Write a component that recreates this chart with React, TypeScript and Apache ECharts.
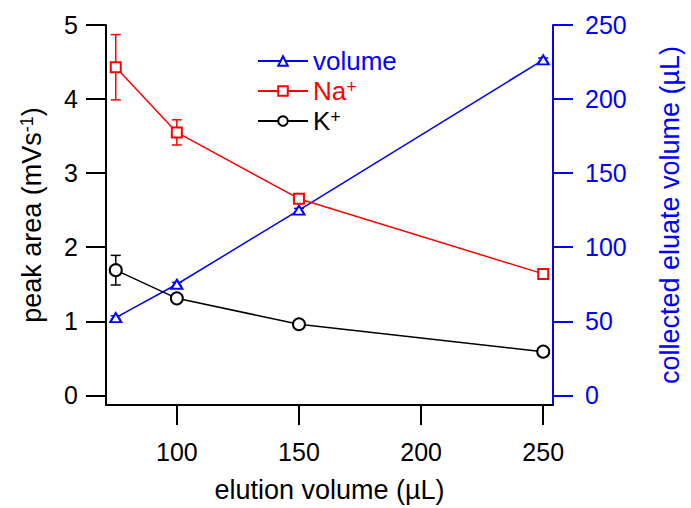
import React, { useEffect, useRef } from "react";
import * as echarts from "echarts";

const xValues = [75, 100, 150, 250];
const volume = [52.5, 75, 125, 226.5];
const volumeErr = [1.2, 1.2, 1.2, 1.2];
const sodium = [4.43, 3.55, 2.655, 1.64];
const sodiumErr = [0.44, 0.17, 0.04, 0.04];
const potassium = [1.69, 1.31, 0.96, 0.59];
const potassiumErr = [0.2, 0.03, 0.03, 0.03];
const xTicks = [100, 150, 200, 250];
const leftTicks = [0, 1, 2, 3, 4, 5];
const rightTicks = [0, 50, 100, 150, 200, 250];

const BLUE = "#0000ff";
const RED = "#ff0000";
const BLACK = "#000000";
const FONT = "'Liberation Sans', Arial, Helvetica, sans-serif";

function errorSeries(vals: number[], errs: number[], color: string, yAxisIndex: number) {
  return {
    type: "custom",
    name: "err" + color,
    yAxisIndex,
    z: 1,
    silent: true,
    data: xValues.map((x, i) => [x, vals[i] - errs[i], vals[i] + errs[i]]),
    encode: { x: 0, y: [1, 2] },
    renderItem: (params: any, api: any) => {
      const x = api.value(0);
      const lo = api.value(1);
      const hi = api.value(2);
      const p1 = api.coord([x, hi]);
      const p2 = api.coord([x, lo]);
      const hw = 5;
      const style = { stroke: color, lineWidth: 1.5 };
      return {
        type: "group",
        children: [
          { type: "line", shape: { x1: p1[0], y1: p1[1], x2: p2[0], y2: p2[1] }, style },
          { type: "line", shape: { x1: p1[0] - hw, y1: p1[1], x2: p1[0] + hw, y2: p1[1] }, style },
          { type: "line", shape: { x1: p2[0] - hw, y1: p2[1], x2: p2[0] + hw, y2: p2[1] }, style },
        ],
      };
    },
  };
}

export default function App() {
  const ref = useRef<HTMLDivElement>(null);
  useEffect(() => {
    if (!ref.current) return;
    const chart = echarts.init(ref.current, undefined, { renderer: "svg" });
    chart.setOption({
      animation: false,
      backgroundColor: "#ffffff",
      textStyle: { fontFamily: FONT },
      grid: { left: 106, right: 136, top: 25, bottom: 101 },
      legend: {
        orient: "vertical",
        left: 252,
        top: 43,
        itemWidth: 50,
        itemHeight: 12,
        itemGap: 4,
        selectedMode: false,
        data: [
          { name: "volume", textStyle: { color: BLUE } },
          { name: "Na+", textStyle: { color: RED } },
          { name: "K+", textStyle: { color: BLACK } },
        ],
        formatter: (name: string) =>
          name === "Na+" ? "Na{sup|+}" : name === "K+" ? "K{sup|+}" : name,
        textStyle: {
          fontSize: 26,
          fontFamily: FONT,
          rich: { sup: { fontSize: 18, verticalAlign: "top", fontFamily: FONT } },
        },
      },
      xAxis: {
        type: "value",
        min: 71,
        max: 254,
        name: "elution volume (µL)",
        nameLocation: "middle",
        nameGap: 71,
        nameTextStyle: { fontSize: 27, color: BLACK, fontFamily: FONT },
        axisLine: { show: true, onZero: false, lineStyle: { color: BLACK, width: 2 } },
        axisTick: { show: true, length: 20, lineStyle: { color: BLACK, width: 2 }, customValues: xTicks },
        axisLabel: { fontSize: 25, color: BLACK, margin: 34, customValues: xTicks, fontFamily: FONT },
        splitLine: { show: false },
      },
      yAxis: [
        {
          type: "value",
          min: -0.13,
          max: 5,
          position: "left",
          name: "peak area (mVs{sup|-1})",
          nameLocation: "middle",
          nameGap: 61,
          nameTextStyle: {
            fontSize: 27,
            color: BLACK,
            fontFamily: FONT,
            rich: { sup: { fontSize: 18, verticalAlign: "top", fontFamily: FONT, color: BLACK } },
          },
          axisLine: { show: true, onZero: false, lineStyle: { color: BLACK, width: 2 } },
          axisTick: { show: true, length: 20, lineStyle: { color: BLACK, width: 2 }, customValues: leftTicks },
          axisLabel: { fontSize: 25, color: BLACK, margin: 28, customValues: leftTicks, fontFamily: FONT },
          splitLine: { show: false },
        },
        {
          type: "value",
          min: -6.5,
          max: 250,
          position: "right",
          name: "collected eluate volume (µL)",
          nameLocation: "middle",
          nameGap: 103,
          nameTextStyle: { fontSize: 27, color: BLUE, fontFamily: FONT },
          axisLine: { show: true, onZero: false, lineStyle: { color: BLUE, width: 2 } },
          axisTick: { show: true, length: 20, lineStyle: { color: BLUE, width: 2 }, customValues: rightTicks },
          axisLabel: { fontSize: 25, color: BLUE, margin: 32, customValues: rightTicks, fontFamily: FONT },
          splitLine: { show: false },
        },
      ],
      series: [
        errorSeries(volume, volumeErr, BLUE, 1),
        errorSeries(sodium, sodiumErr, RED, 0),
        errorSeries(potassium, potassiumErr, BLACK, 0),
        {
          type: "line",
          name: "volume",
          yAxisIndex: 1,
          data: xValues.map((x, i) => [x, volume[i]]),
          symbol: "emptyTriangle",
          symbolSize: [11, 9],
          lineStyle: { color: BLUE, width: 1.5 },
          itemStyle: { color: BLUE, borderColor: BLUE, borderWidth: 1.5 },
          z: 3,
        },
        {
          type: "line",
          name: "Na+",
          yAxisIndex: 0,
          data: xValues.map((x, i) => [x, sodium[i]]),
          symbol: "emptyRect",
          symbolSize: 10,
          lineStyle: { color: RED, width: 1.5 },
          itemStyle: { color: RED, borderColor: RED, borderWidth: 1.5 },
          z: 3,
        },
        {
          type: "line",
          name: "K+",
          yAxisIndex: 0,
          data: xValues.map((x, i) => [x, potassium[i]]),
          symbol: "emptyCircle",
          symbolSize: 12,
          lineStyle: { color: BLACK, width: 1.5 },
          itemStyle: { color: BLACK, borderColor: BLACK, borderWidth: 1.5 },
          z: 3,
        },
      ],
    });
    return () => chart.dispose();
  }, []);
  return (
    <div
      ref={ref}
      style={{ position: "absolute", left: 0, top: 0, width: 691, height: 508 }}
    />
  );
}
